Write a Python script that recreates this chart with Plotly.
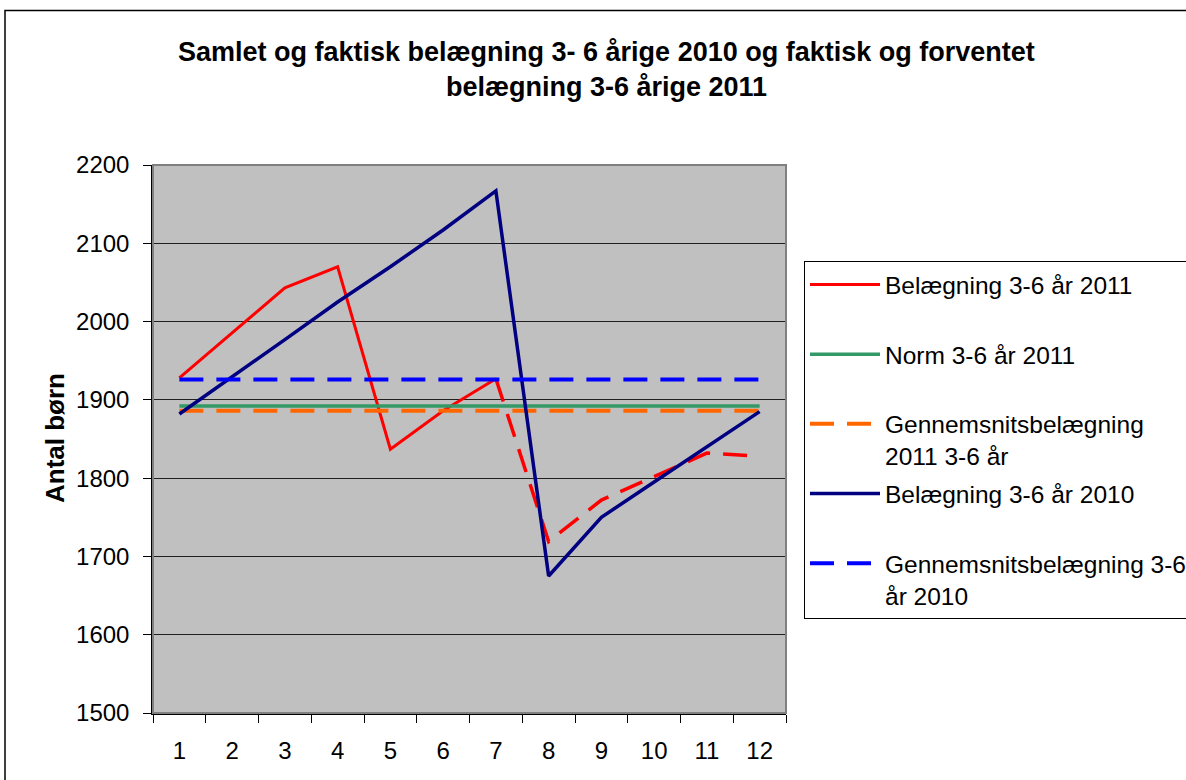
import plotly.graph_objects as go

# ---- data ----
months = ["1", "2", "3", "4", "5", "6", "7", "8", "9", "10", "11", "12"]
actual_months_2011 = ["1", "2", "3", "4", "5", "6", "7"]
actual_2011 = [1928, 1986, 2043, 2070, 1837, 1886, 1927]
forecast_months_2011 = ["7", "8", "9", "10", "11", "12"]
forecast_2011 = [1927, 1719, 1772, 1802, 1832, 1828]
norm_2011 = [1892] * 12
avg_2011 = [1886] * 12
occ_2010 = [1882, 1929, 1977, 2025, 2070, 2117, 2167, 1675, 1750, 1795, 1840, 1885]
avg_2010 = [1926] * 12

title_line1 = "Samlet og faktisk belægning 3- 6 årige 2010 og faktisk og forventet"
title_line2 = "belægning 3-6 årige 2011"
y_title = "Antal børn"

FONT = "Liberation Sans, Arial, sans-serif"
W, H = 1186, 780
L, R, T, B = 153, 786, 165, 713
PW, PH = R - L, B - T


def px(xp):
    return (xp - L) / PW


def py(yp):
    return (B - yp) / PH


DASH = "24px,13px"
BLANK = "<br>\u00a0"

fig = go.Figure()
fig.add_trace(go.Scatter(x=actual_months_2011, y=actual_2011, mode="lines",
                         name="Belægning 3-6 år 2011" + BLANK, legendgroup="a",
                         line=dict(color="#FF0000", width=3)))
fig.add_trace(go.Scatter(x=forecast_months_2011, y=forecast_2011, mode="lines",
                         name="Forventet 2011", showlegend=False, legendgroup="a",
                         line=dict(color="#FF0000", width=3.5, dash=DASH)))
fig.add_trace(go.Scatter(x=months, y=norm_2011, mode="lines",
                         name="Norm 3-6 år 2011" + BLANK, legendgroup="b",
                         line=dict(color="#339966", width=3.5)))
fig.add_trace(go.Scatter(x=months, y=avg_2011, mode="lines",
                         name="Gennemsnitsbelægning<br>2011 3-6 år", legendgroup="c",
                         line=dict(color="#FF6600", width=4, dash=DASH)))
fig.add_trace(go.Scatter(x=months, y=occ_2010, mode="lines",
                         name="Belægning 3-6 år 2010" + BLANK, legendgroup="d",
                         line=dict(color="#000080", width=3.5)))
fig.add_trace(go.Scatter(x=months, y=avg_2010, mode="lines",
                         name="Gennemsnitsbelægning 3-6<br>år 2010", legendgroup="e",
                         line=dict(color="#0000FF", width=4, dash=DASH)))

fig.update_layout(
    width=W, height=H,
    margin=dict(l=L, r=W - R, t=T, b=H - B, autoexpand=False),
    paper_bgcolor="white",
    plot_bgcolor="#C0C0C0",
    font=dict(family=FONT, color="black"),
    showlegend=True,
    legend=dict(
        x=px(804), y=py(261), xanchor="left", yanchor="top",
        bordercolor="black", borderwidth=1, bgcolor="white",
        font=dict(size=24.5, family=FONT, color="black"),
        itemwidth=70, tracegroupgap=3, valign="top",
        traceorder="grouped",
    ),
    xaxis=dict(
        type="category", categoryorder="array", categoryarray=months,
        tickson="boundaries", ticks="outside", ticklen=8, tickcolor="black",
        showgrid=False, showline=True, linecolor="black", linewidth=1.5,
        tickfont=dict(size=24, family=FONT), ticklabelstandoff=15,
        range=[-0.5, 11.5], zeroline=False,
    ),
    yaxis=dict(
        range=[1500, 2200], dtick=100, tick0=1500,
        ticks="outside", ticklen=8, tickcolor="black",
        showgrid=True, gridcolor="#202020", gridwidth=1,
        showline=True, linecolor="black", linewidth=1.5,
        tickfont=dict(size=24, family=FONT), ticklabelstandoff=9,
        zeroline=False,
    ),
    shapes=[
        dict(type="rect", xref="paper", yref="paper", x0=0, x1=1, y0=0, y1=1,
             line=dict(color="#808080", width=2), fillcolor="rgba(0,0,0,0)", layer="above"),
        dict(type="rect", xref="paper", yref="paper",
             x0=px(5), x1=px(1195), y0=py(790), y1=py(10.5),
             line=dict(color="black", width=1.5), fillcolor="rgba(0,0,0,0)", layer="below"),
    ],
    annotations=[
        dict(text="<b>" + title_line1 + "</b>", xref="paper", yref="paper",
             x=px(606), y=py(52), xanchor="center", yanchor="middle", showarrow=False,
             font=dict(size=27, family=FONT)),
        dict(text="<b>" + title_line2 + "</b>", xref="paper", yref="paper",
             x=px(606), y=py(87), xanchor="center", yanchor="middle", showarrow=False,
             font=dict(size=27, family=FONT)),
        dict(text="<b>" + y_title + "</b>", xref="paper", yref="paper",
             x=px(55), y=py(438), xanchor="center", yanchor="middle", showarrow=False,
             textangle=-90, font=dict(size=26, family=FONT)),
    ],
)

fig.write_html("out.html", config={"displayModeBar": False},
               post_script="document.body.style.margin='0';")
